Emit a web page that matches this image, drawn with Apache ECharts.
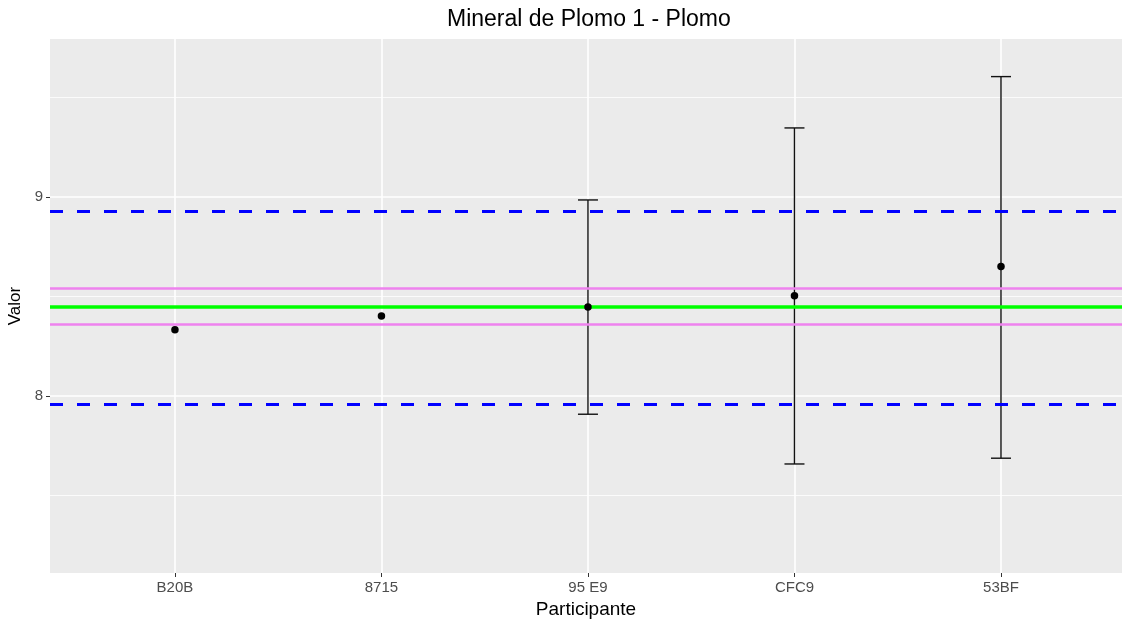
<!DOCTYPE html>
<html>
<head>
<meta charset="utf-8">
<script src="https://cdn.jsdelivr.net/npm/echarts@6/dist/echarts.min.js"></script>
<style>
  html, body { margin: 0; padding: 0; background: #fff; }
  #chart { width: 1123px; height: 623px; }
</style>
</head>
<body>
<div id="chart"></div>
<script>
// participantes y valores
const participantes = ['B20B', '8715', '95 E9', 'CFC9', '53BF']
const valores = [8.332, 8.402, 8.447, 8.503, 8.650]
// barras de error (solo tres participantes las tienen)
const errPos = [3, 4, 5]
const errLow = [7.908, 7.658, 7.687]
const errHigh = [8.985, 9.347, 9.605]
// lineas de referencia
const valorAsignado = 8.447
const limitesRosa = [8.357, 8.538]
const limitesAzul = [7.958, 8.933]
const yMajor = [8, 9]
const yMinor = [7.5, 8.5, 9.5]

const xPos = participantes.map((p, i) => i + 1)
const font = 'Liberation Sans, Arial, sans-serif'

const chart = echarts.init(document.getElementById('chart'))

const hline = (v, color, width, type) => ({
    yAxis: v,
    lineStyle: { color: color, width: width, type: type }
})

const option = {
    animation: false,
    title: {
        text: 'Mineral de Plomo 1 - Plomo',
        left: 447,
        top: 8,
        padding: 0,
        textStyle: { fontFamily: font, fontSize: 23, fontWeight: 'normal', color: '#000' }
    },
    grid: {
        left: 50, right: 1, top: 39, bottom: 50,
        outerBoundsMode: 'none',
        containLabel: false,
        show: true,
        backgroundColor: '#EBEBEB',
        borderWidth: 0
    },
    xAxis: {
        type: 'value',
        min: 0.395,
        max: 5.586,
        name: 'Participante',
        nameLocation: 'middle',
        nameGap: 27,
        nameTextStyle: { fontFamily: font, fontSize: 19, color: '#000' },
        axisLine: { show: false },
        axisTick: { show: true, length: 4, customValues: xPos, lineStyle: { color: '#333', width: 1 } },
        axisLabel: {
            customValues: xPos,
            formatter: v => participantes[Math.round(v) - 1],
            fontFamily: font, fontSize: 15, color: '#4D4D4D', margin: 7
        },
        splitLine: { show: true, lineStyle: { color: '#fff', width: 1.6 } }
    },
    yAxis: [{
        type: 'value',
        min: 7.11,
        max: 9.794,
        name: 'Valor',
        nameLocation: 'middle',
        nameGap: 24,
        nameTextStyle: { fontFamily: font, fontSize: 17, color: '#000' },
        axisLine: { show: false },
        axisTick: { show: true, length: 4, customValues: yMajor, lineStyle: { color: '#333', width: 1 } },
        axisLabel: { customValues: yMajor, fontFamily: font, fontSize: 15, color: '#4D4D4D', margin: 7 },
        splitLine: { show: true, lineStyle: { color: '#fff', width: 1.6 } }
    }, {
        type: 'value',
        min: 7.11,
        max: 9.794,
        position: 'left',
        axisLine: { show: false },
        axisTick: { show: false, customValues: yMinor },
        axisLabel: { show: false, customValues: yMinor },
        splitLine: { show: true, lineStyle: { color: '#fff', width: 0.8 } }
    }],
    series: [
        {
            // barras de error
            type: 'custom',
            z: 3,
            data: errPos.map((x, i) => [x, errLow[i], errHigh[i]]),
            renderItem: (params, api) => {
                const lo = api.coord([api.value(0), api.value(1)])
                const hi = api.coord([api.value(0), api.value(2)])
                const half = 10
                const style = { stroke: '#111', lineWidth: 1.4 }
                return {
                    type: 'group',
                    children: [
                        { type: 'line', shape: { x1: lo[0], y1: lo[1], x2: hi[0], y2: hi[1] }, style: style },
                        { type: 'line', shape: { x1: hi[0] - half, y1: hi[1], x2: hi[0] + half, y2: hi[1] }, style: style },
                        { type: 'line', shape: { x1: lo[0] - half, y1: lo[1], x2: lo[0] + half, y2: lo[1] }, style: style }
                    ]
                }
            }
        },
        {
            // lineas horizontales
            type: 'line',
            z: 4,
            data: [],
            markLine: {
                silent: true,
                symbol: 'none',
                label: { show: false },
                data: [
                    hline(limitesAzul[0], '#0000FF', 3, [13, 14]),
                    hline(limitesAzul[1], '#0000FF', 3, [13, 14]),
                    hline(limitesRosa[0], '#EE82EE', 2.5, 'solid'),
                    hline(limitesRosa[1], '#EE82EE', 2.5, 'solid'),
                    hline(valorAsignado, '#00FF00', 3.5, 'solid')
                ]
            }
        },
        {
            type: 'scatter',
            z: 5,
            symbolSize: 7.5,
            itemStyle: { color: '#000', opacity: 1 },
            data: xPos.map((x, i) => [x, valores[i]])
        }
    ]
}

chart.setOption(option)
</script>
</body>
</html>
